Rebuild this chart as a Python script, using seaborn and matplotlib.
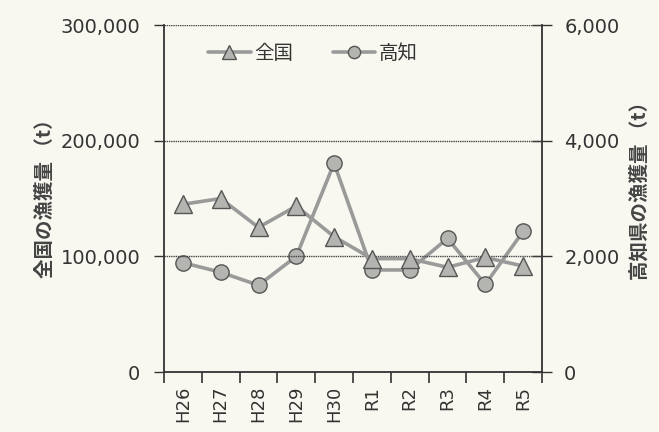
import matplotlib
matplotlib.use("Agg")
import matplotlib.pyplot as plt
from matplotlib.ticker import FuncFormatter, FixedLocator
import seaborn as sns
import pandas as pd

years = ["H26", "H27", "H28", "H29", "H30", "R1", "R2", "R3", "R4", "R5"]
national = [145000, 150000, 125000, 143500, 117000, 98000, 98000, 90500, 99000, 91600]
kochi = [1890, 1725, 1500, 2000, 3610, 1765, 1765, 2310, 1515, 2430]

sns.set_theme(style="white")
plt.rcParams["font.family"] = ["DejaVu Sans", "Noto Sans CJK JP"]

paper = "#f9f8f0"
ink = "#333333"
line_col = "#9a9a9a"
mark_col = "#b4b4b0"

df = pd.DataFrame({"year": years, "national": national, "kochi": kochi})
df["x"] = range(len(years))

fig = plt.figure(figsize=(6.59, 4.32), dpi=100, facecolor=paper)
ax = fig.add_axes([164 / 659, 1 - 372 / 432, (542 - 164) / 659, (372 - 25) / 432])
ax.set_facecolor("none")
ax2 = ax.twinx()

sns.lineplot(data=df, x="x", y="national", ax=ax, color=line_col, lw=2.6,
             marker="^", markersize=13, markerfacecolor=mark_col,
             markeredgecolor="#555555", markeredgewidth=1.0, label="全国",
             legend=False)
sns.lineplot(data=df, x="x", y="kochi", ax=ax2, color=line_col, lw=2.6,
             marker="o", markersize=11, markerfacecolor=mark_col,
             markeredgecolor="#555555", markeredgewidth=1.0, label="高知",
             legend=False)

ax.set_xlim(-0.5, len(years) - 0.5)
ax.set_ylim(0, 300000)
ax2.set_ylim(0, 6000)
ax.set_yticks([0, 100000, 200000, 300000])
ax2.set_yticks([0, 2000, 4000, 6000])
ax.yaxis.set_major_formatter(FuncFormatter(lambda v, p: f"{int(v):,}"))
ax2.yaxis.set_major_formatter(FuncFormatter(lambda v, p: f"{int(v):,}"))

ax.set_xticks(df["x"])
ax.set_xticklabels(years, rotation=90)
ax.xaxis.set_minor_locator(FixedLocator([i - 0.5 for i in range(len(years) + 1)]))
ax.tick_params(axis="x", which="major", length=0, pad=10, labelsize=13, colors=ink)
ax.tick_params(axis="x", which="minor", length=8, width=1.2, color=ink, direction="out", bottom=True)
ax.tick_params(axis="y", length=7, width=1.0, color=ink, direction="out", left=True,
               labelsize=14, labelcolor=ink, pad=10)
ax2.tick_params(axis="y", length=14, width=1.0, color=ink, direction="inout", right=True,
                labelsize=14, labelcolor=ink, pad=9)

for a in (ax, ax2):
    a.set_xlabel("")
    for s in a.spines.values():
        s.set_visible(False)
ax.spines["left"].set_visible(True)
ax.spines["bottom"].set_visible(True)
ax2.spines["right"].set_visible(True)
for s in (ax.spines["left"], ax.spines["bottom"], ax2.spines["right"]):
    s.set_color(ink)
    s.set_linewidth(1.3)

for v in (100000, 200000, 300000):
    ax.axhline(v, color="#444444", lw=1.0, ls=(0, (1, 0.6)), zorder=0.5)

ax.set_ylabel("全国の漁獲量 （t）", fontsize=14, color="#444444",
              family=["Noto Sans CJK JP"], fontweight="bold", rotation=90,
              va="center", ha="center")
ax.yaxis.set_label_coords((45 - 164) / 378, 0.515)
ax2.set_ylabel("高知県の漁獲量 （t）", fontsize=14, color="#444444",
               family=["Noto Sans CJK JP"], fontweight="bold", rotation=90,
               va="center", ha="center")
ax2.yaxis.set_label_coords((640 - 164) / 378, 0.535)

ax.set_zorder(ax2.get_zorder() + 1)

h1, l1 = ax.get_legend_handles_labels()
h2, l2 = ax2.get_legend_handles_labels()
leg = ax.legend(h1 + h2, l1 + l2, loc="upper left", bbox_to_anchor=(0.07, 1.0),
                ncol=2, frameon=False, handlelength=2.2, columnspacing=2.0,
                handletextpad=0.2, markerscale=0.8,
                prop={"family": "Noto Sans CJK JP", "size": 14})
for t in leg.get_texts():
    t.set_color(ink)

fig.savefig("out.png", dpi=100, facecolor=paper)
